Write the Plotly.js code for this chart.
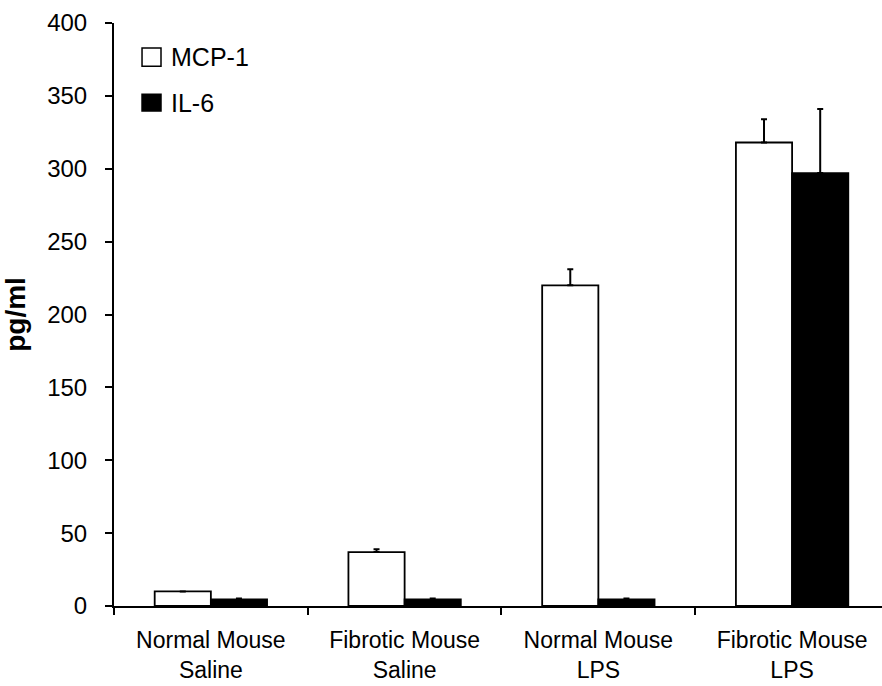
<!DOCTYPE html>
<html>
<head>
<meta charset="utf-8">
<script src="https://cdn.plot.ly/plotly-3.0.1.min.js"></script>
<style>body{margin:0;background:#fff;}#chart{width:882px;height:686px;}</style>
</head>
<body>
<div id="chart"></div>
<script>
const categories = ["Normal Mouse<br>Saline", "Fibrotic Mouse<br>Saline", "Normal Mouse<br>LPS", "Fibrotic Mouse<br>LPS"];
const seriesNames = ["MCP-1", "IL-6"];
const mcp1 = [10, 37, 220, 318];
const mcp1Err = [0, 2, 11, 16];
const il6 = [4.5, 4.5, 4.5, 297];
const il6Err = [0.7, 0.7, 0.7, 44];
const yTicks = [0, 50, 100, 150, 200, 250, 300, 350, 400];

const font = "Liberation Sans, Arial, sans-serif";
const fills = ["#ffffff", "#000000"];
const traces = [
  {type: "bar", name: seriesNames[0], x: categories, y: mcp1,
   marker: {color: fills[0], line: {color: "#000000", width: 1.8}},
   error_y: {type: "data", array: mcp1Err, arrayminus: mcp1.map(() => 0), symmetric: false, color: "#000", thickness: 2, width: 3}},
  {type: "bar", name: seriesNames[1], x: categories, y: il6,
   marker: {color: fills[1], line: {color: "#000000", width: 1.8}},
   error_y: {type: "data", array: il6Err, arrayminus: il6.map(() => 0), symmetric: false, color: "#000", thickness: 2, width: 3}}
];

// custom legend (paper coordinates = plot area)
const legendRows = [
  {y0: 0.926, y1: 0.957, ty: 0.9417},
  {y0: 0.849, y1: 0.878, ty: 0.8628}
];
const shapes = legendRows.map((r, i) => ({
  type: "rect", xref: "paper", yref: "paper", x0: 0.0365, x1: 0.0612, y0: r.y0, y1: r.y1,
  fillcolor: fills[i], line: {color: "#000", width: 1.5}
}));
const annotations = legendRows.map((r, i) => ({
  xref: "paper", yref: "paper", x: 0.071, y: r.ty, xanchor: "left", yanchor: "middle",
  text: seriesNames[i], showarrow: false, font: {family: font, size: 25, color: "#000"}
}));

const layout = {
  width: 882, height: 686,
  margin: {l: 114, r: 0, t: 23, b: 80},
  paper_bgcolor: "#fff", plot_bgcolor: "#fff",
  barmode: "group", bargap: 0.42, bargroupgap: 0,
  showlegend: false,
  shapes: shapes, annotations: annotations,
  xaxis: {range: [-0.5, 3.464], showline: true, linecolor: "#000", linewidth: 2, ticks: "outside", tickson: "boundaries", ticklen: 7, tickwidth: 2, tickcolor: "#000", showgrid: false, tickfont: {family: font, size: 23, color: "#000"}, ticklabelstandoff: 12, fixedrange: true},
  yaxis: {range: [0, 400], tickvals: yTicks, showline: true, linecolor: "#000", linewidth: 2, ticks: "outside", ticklen: 7, tickwidth: 2, tickcolor: "#000", showgrid: false, zeroline: false, tickfont: {family: font, size: 24, color: "#000"}, ticklabelstandoff: 13,
          title: {text: "<b>pg/ml</b>", font: {family: font, size: 28, color: "#000"}, standoff: 14}}
};
Plotly.newPlot("chart", traces, layout, {displayModeBar: false, staticPlot: true});
</script>
</body>
</html>
